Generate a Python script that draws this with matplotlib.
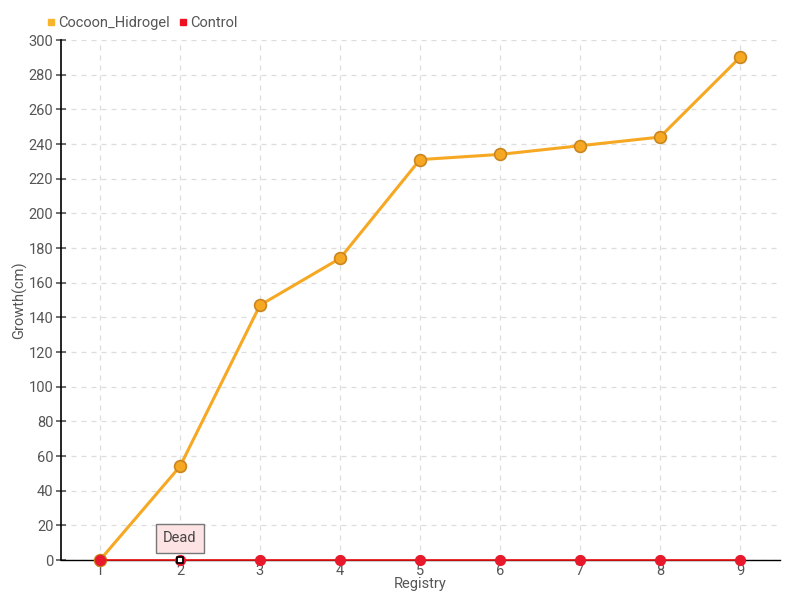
import matplotlib
matplotlib.use("Agg")
import matplotlib.pyplot as plt
from matplotlib.lines import Line2D

registry = [1, 2, 3, 4, 5, 6, 7, 8, 9]
cocoon = [0, 54, 147, 174, 231, 234, 239, 244, 290]
control = [0, 0, 0, 0, 0, 0, 0, 0, 0]
yticks = list(range(0, 301, 20))

plt.rcParams['font.family'] = ['Roboto', 'DejaVu Sans']
fig = plt.figure(figsize=(8, 6), dpi=100)
ax = fig.add_axes([61/800, 40/600, (780-61)/800, (560-40)/600])

ax.set_xlim(0.5125, 9.5)
ax.set_ylim(0, 300)
ax.set_yticks(yticks)
ax.set_xticks(registry)
ax.grid(True, color='#dddddd', linestyle=(0, (4, 4)), linewidth=0.9)
ax.set_axisbelow(True)

for s in ['top', 'right']:
    ax.spines[s].set_visible(False)
ax.spines['left'].set_linewidth(1.2)
ax.spines['bottom'].set_linewidth(1.0)
ax.tick_params(axis='y', direction='inout', length=7, colors='#555555', labelsize=10.5, width=1.2, pad=2)
ax.tick_params(axis='x', direction='inout', length=6, colors='#555555', labelsize=10.5, width=0, pad=0)
for t in ax.get_yticklines():
    t.set_color('black')

ax.plot(registry, cocoon, color='#f7a823', linewidth=2.2, zorder=5, clip_on=False,
        marker='o', markersize=8.5, markerfacecolor='#f7a823', markeredgecolor='#c98520', markeredgewidth=1.2)
ax.plot(registry, control, color='#ee1111', linewidth=1.2, zorder=6, clip_on=False)
ax.scatter(registry, control, s=50, color='#e8192c', zorder=7, clip_on=False)

# highlighted marker at point 2 control
ax.scatter([registry[1]], [control[1]], s=22, marker='s', facecolor='white', edgecolor='black',
           linewidths=1.3, zorder=8, clip_on=False)

ax.annotate('Dead', xy=(registry[1], control[1]), xytext=(registry[1], 12.5),
            ha='center', va='center', fontsize=10.5, color='#444444',
            bbox=dict(boxstyle='square,pad=0.5', facecolor='#fde3e3', edgecolor='#777777', linewidth=1),
            zorder=9)

ax.set_xlabel('Registry', color='#555555', fontsize=10.5, labelpad=-1)
ax.set_ylabel('Growth(cm)', color='#555555', fontsize=10.5, labelpad=1)

handles = [Line2D([], [], marker='s', linestyle='none', color='#f7b52b', markersize=5),
           Line2D([], [], marker='s', linestyle='none', color='#ee1122', markersize=5)]
fig.legend(handles, ['Cocoon_Hidrogel', 'Control'], loc='upper left', bbox_to_anchor=(0.04, 0.995),
           ncol=2, frameon=False, handletextpad=0.1, columnspacing=0.5, fontsize=10.5,
           labelcolor='#555555', handlelength=0.8)

fig.savefig('out.png', dpi=100)
